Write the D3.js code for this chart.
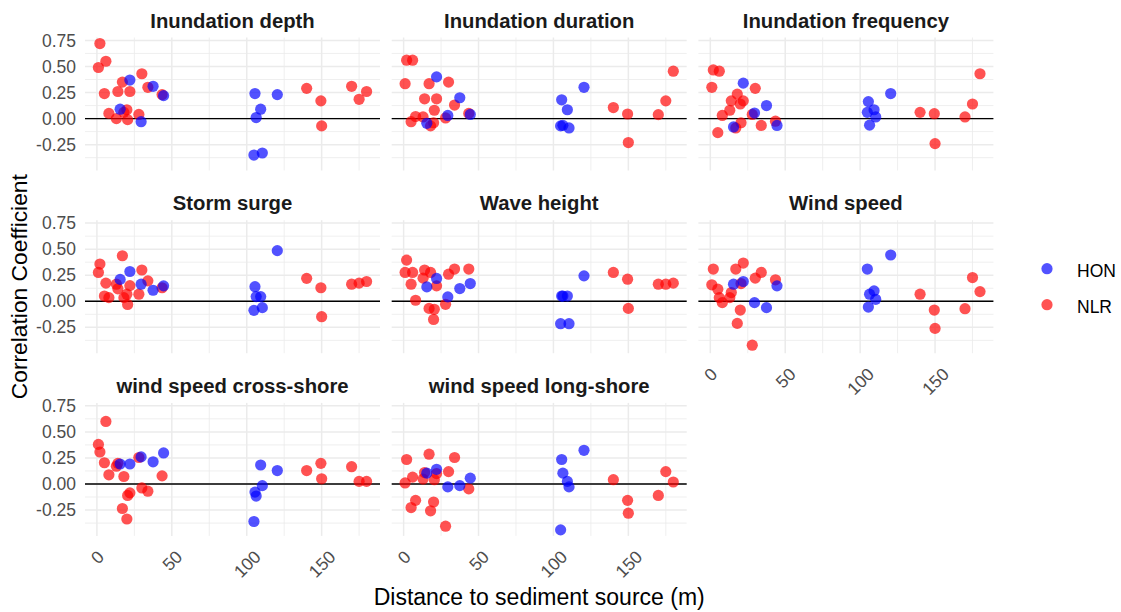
<!DOCTYPE html>
<meta charset="utf-8">

<!-- Load d3.js -->
<script src="https://d3js.org/d3.v7.min.js"></script>

<style>
  body { margin: 0; background: #fff; }
  text { font-family: "Liberation Sans", Arial, sans-serif; }
</style>

<!-- Create a div where the graph will take place -->
<div id="my_dataviz"></div>

<script>

// distance of every site to the sediment source (m)
var distHON = [15.5, 22, 29.5, 37.5, 44.5, 104.8, 105.5, 106.3, 109.3, 110.4, 120.4]
var distNLR = [1, 2, 5, 6, 8, 13, 14, 17, 18, 20, 20.5, 22, 28, 30, 34, 43.5, 140, 149.5, 150, 170, 175, 180]

// facet titles
var variables = ["Inundation depth", "Inundation duration", "Inundation frequency",
                 "Storm surge", "Wave height", "Wind speed",
                 "wind speed cross-shore", "wind speed long-shore"]

// correlation coefficients, one value per site
var depthHON = [0.09, 0.37, -0.03, 0.31, 0.22, -0.35, 0.24, 0.01, 0.09, -0.33, 0.23]
var depthNLR = [0.49, 0.72, 0.24, 0.55, 0.05, 0.00, 0.26, 0.35, 0.06, 0.085, -0.01, 0.26, 0.04, 0.43, 0.30, 0.23, 0.29, 0.17, -0.07, 0.31, 0.185, 0.26]

var durationHON = [-0.045, 0.40, 0.03, 0.20, 0.04, -0.07, 0.18, -0.065, 0.085, -0.09, 0.30]
var durationNLR = [0.335, 0.56, -0.03, 0.56, 0.02, 0.016, 0.19, 0.335, -0.07, -0.04, 0.08, 0.19, 0.006, 0.35, 0.13, 0.05, 0.106, 0.044, -0.23, 0.038, 0.17, 0.455]

var frequencyHON = [-0.08, 0.34, 0.053, 0.125, -0.066, 0.06, 0.163, -0.063, 0.085, 0.016, 0.24]
var frequencyNLR = [0.30, 0.467, -0.135, 0.455, 0.03, 0.08, 0.17, -0.09, 0.235, 0.14, -0.04, 0.17, 0.04, 0.29, -0.066, -0.025, 0.06, 0.047, -0.24, 0.016, 0.14, 0.43]

var surgeHON = [0.21, 0.286, 0.164, 0.106, 0.148, -0.087, 0.14, 0.045, 0.045, -0.061, 0.486]
var surgeNLR = [0.277, 0.357, 0.05, 0.174, 0.035, 0.164, 0.12, 0.437, 0.035, 0.068, -0.03, 0.15, 0.068, 0.30, 0.196, 0.13, 0.22, 0.13, -0.148, 0.164, 0.174, 0.19]

var waveHON = [0.138, 0.219, 0.042, 0.122, 0.17, -0.215, 0.05, 0.05, 0.05, -0.215, 0.244]
var waveNLR = [0.277, 0.395, 0.164, 0.277, 0.01, 0.222, 0.30, -0.068, 0.277, -0.174, -0.077, 0.148, -0.029, 0.26, 0.309, 0.309, 0.277, 0.212, -0.068, 0.164, 0.164, 0.174]

var windHON = [0.164, 0.19, -0.013, -0.061, 0.148, 0.309, -0.055, 0.068, 0.1, 0.019, 0.444]
var windNLR = [0.158, 0.309, 0.116, 0.035, -0.013, 0.035, 0.084, 0.309, -0.212, -0.084, 0.17, 0.367, -0.421, 0.222, 0.277, 0.206, 0.068, -0.084, -0.26, -0.071, 0.228, 0.093]

var crossHON = [0.192, 0.192, 0.26, 0.213, 0.298, -0.36, -0.078, -0.116, 0.182, -0.016, 0.129]
var crossNLR = [0.38, 0.307, 0.204, 0.60, 0.088, 0.17, 0.198, -0.235, 0.072, -0.336, -0.11, -0.085, 0.254, -0.038, -0.069, 0.078, 0.129, 0.198, 0.05, 0.166, 0.025, 0.025]

var longHON = [0.104, 0.141, -0.028, -0.016, 0.056, -0.44, 0.235, 0.104, 0.025, -0.028, 0.323]
var longNLR = [0.01, 0.235, -0.226, 0.066, -0.157, 0.047, 0.11, 0.286, -0.257, -0.173, 0.041, 0.10, -0.405, 0.119, 0.254, -0.047, 0.041, -0.157, -0.28, -0.11, 0.119, 0.019]

// tick labels
var xTicks = [0, 50, 100, 150]
var yTicks = [-0.25, 0, 0.25, 0.5, 0.75]

var groups = ["HON", "NLR"]
var groupColors = ["#0000FF", "#FF0000"]

// one entry per facet
var honSets = [depthHON, durationHON, frequencyHON, surgeHON, waveHON, windHON, crossHON, longHON]
var nlrSets = [depthNLR, durationNLR, frequencyNLR, surgeNLR, waveNLR, windNLR, crossNLR, longNLR]

var facets = variables.map(function(v, i) {
  var pts = []
  distNLR.forEach(function(d, j) { pts.push({group: "NLR", dist: d, r: nlrSets[i][j]}) })
  distHON.forEach(function(d, j) { pts.push({group: "HON", dist: d, r: honSets[i][j]}) })
  return {title: v, points: pts}
})

// dimensions
var width = 1121
    height = 612
var panelW = 295, panelH = 133
var colStep = 306.7, rowStep = 182.7
var left0 = 85, top0 = 37.5
var nCol = 3

var svg = d3.select("#my_dataviz")
  .append("svg")
    .attr("width", width)
    .attr("height", height)

// shared scales with a 5% expansion like ggplot
var allDist = distHON.concat(distNLR)
var allR = [].concat.apply([], honSets.concat(nlrSets))
var xExt = d3.extent(allDist), yExt = d3.extent(allR)
var xPad = (xExt[1] - xExt[0]) * 0.05, yPad = (yExt[1] - yExt[0]) * 0.05

var x = d3.scaleLinear()
  .domain([xExt[0] - xPad, xExt[1] + xPad])
  .range([0, panelW])
var y = d3.scaleLinear()
  .domain([yExt[0] - yPad, yExt[1] + yPad])
  .range([panelH, 0])

var color = d3.scaleOrdinal().domain(groups).range(groupColors)

// minor breaks halfway between major ones
function minors(ticks, scale) {
  var step = ticks[1] - ticks[0], dom = scale.domain(), out = []
  for (var v = ticks[0] - step / 2; v <= dom[1]; v += step) {
    if (v >= dom[0]) out.push(v)
  }
  return out
}
var xMinor = minors(xTicks, x), yMinor = minors(yTicks, y)

facets.forEach(function(f, i) {
  var col = i % nCol, row = Math.floor(i / nCol)
  var g = svg.append("g")
    .attr("transform", "translate(" + (left0 + col * colStep) + "," + (top0 + row * rowStep) + ")")

  // grid
  g.selectAll(".xminor").data(xMinor).enter().append("line")
    .attr("x1", function(d) { return x(d) }).attr("x2", function(d) { return x(d) })
    .attr("y1", 0).attr("y2", panelH)
    .attr("stroke", "#EBEBEB").attr("stroke-width", 0.8)
  g.selectAll(".yminor").data(yMinor).enter().append("line")
    .attr("y1", function(d) { return y(d) }).attr("y2", function(d) { return y(d) })
    .attr("x1", 0).attr("x2", panelW)
    .attr("stroke", "#EBEBEB").attr("stroke-width", 0.8)
  g.selectAll(".xmajor").data(xTicks).enter().append("line")
    .attr("x1", function(d) { return x(d) }).attr("x2", function(d) { return x(d) })
    .attr("y1", 0).attr("y2", panelH)
    .attr("stroke", "#EBEBEB").attr("stroke-width", 1.5)
  g.selectAll(".ymajor").data(yTicks).enter().append("line")
    .attr("y1", function(d) { return y(d) }).attr("y2", function(d) { return y(d) })
    .attr("x1", 0).attr("x2", panelW)
    .attr("stroke", "#EBEBEB").attr("stroke-width", 1.5)

  // zero line
  g.append("line")
    .attr("x1", 0).attr("x2", panelW)
    .attr("y1", y(0)).attr("y2", y(0))
    .attr("stroke", "#000").attr("stroke-width", 1.4)

  // points
  g.selectAll("circle").data(f.points).enter().append("circle")
    .attr("cx", function(d) { return x(d.dist) })
    .attr("cy", function(d) { return y(d.r) })
    .attr("r", 5.6)
    .style("fill", function(d) { return color(d.group) })
    .style("opacity", 0.68)

  // strip title
  g.append("text")
    .attr("x", panelW / 2).attr("y", -10)
    .attr("text-anchor", "middle")
    .style("font-size", "20.3px").style("font-weight", "bold").style("fill", "#1A1A1A")
    .text(f.title)

  // y axis on the first column
  if (col === 0) {
    var ya = g.append("g")
      .call(d3.axisLeft(y).tickValues(yTicks).tickSize(0).tickPadding(9)
        .tickFormat(function(d) { return d.toFixed(2) }))
    ya.select(".domain").remove()
    ya.selectAll("text").style("font-size", "17.5px").style("fill", "#4D4D4D")
  }

  // x axis on the lowest panel of each column
  if (i + nCol >= facets.length) {
    var xa = g.append("g")
      .attr("transform", "translate(0," + panelH + ")")
      .call(d3.axisBottom(x).tickValues(xTicks).tickSize(0).tickFormat(d3.format("d")))
    xa.select(".domain").remove()
    xa.selectAll("text")
      .style("font-size", "17.5px").style("fill", "#4D4D4D")
      .attr("y", 0).attr("dy", null)
      .attr("text-anchor", "middle")
      .attr("dominant-baseline", "central")
      .attr("transform", function() {
        var w = this.getComputedTextLength()
        return "translate(0," + (13.5 + (w + 12.5) * 0.354) + ") rotate(-45)"
      })
  }
})

// axis titles
var midX = left0 + ((nCol - 1) * colStep + panelW) / 2
var midY = top0 + (2 * rowStep + panelH) / 2
svg.append("text")
  .attr("x", midX).attr("y", 605)
  .attr("text-anchor", "middle")
  .style("font-size", "23px").style("fill", "#000")
  .text("Distance to sediment source (m)")
svg.append("text")
  .attr("transform", "translate(19," + midY + ") rotate(-90)")
  .attr("text-anchor", "middle")
  .attr("dominant-baseline", "central")
  .style("font-size", "22.8px").style("fill", "#000")
  .text("Correlation Coefficient")

// legend
var legend = svg.selectAll(".legend").data(groups).enter().append("g")
  .attr("transform", function(d, i) { return "translate(1047," + (midY - 18 + i * 36) + ")" })
legend.append("circle")
  .attr("r", 5.6)
  .style("fill", function(d) { return color(d) })
  .style("opacity", 0.68)
legend.append("text")
  .attr("x", 30).attr("y", 2)
  .attr("dominant-baseline", "central")
  .style("font-size", "17.5px").style("fill", "#000")
  .text(function(d) { return d })

</script>
